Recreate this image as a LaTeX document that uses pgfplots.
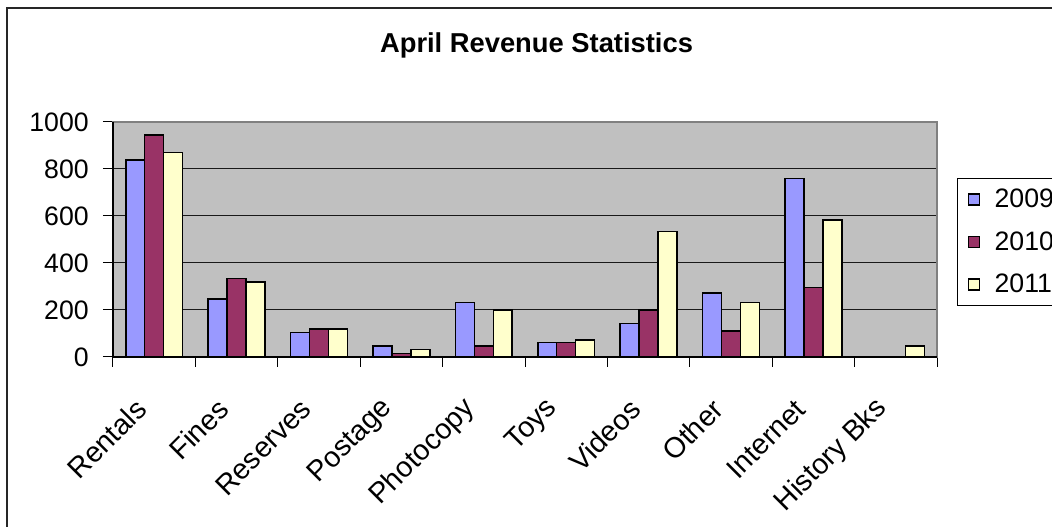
\documentclass[border=0pt]{standalone}
\usepackage{pgfplots}
\pgfplotsset{compat=1.18}
\usepackage{fontspec}
\setmainfont{Liberation Sans}
\definecolor{cA}{HTML}{9999FF}
\definecolor{cB}{HTML}{993366}
\definecolor{cC}{HTML}{FFFFCC}
\definecolor{bg}{HTML}{C0C0C0}
\definecolor{frm}{HTML}{808080}
\begin{document}
\begin{tikzpicture}
\useasboundingbox (0pt,0pt) rectangle (789pt,395.25pt);
\clip (0pt,0pt) rectangle (789pt,395.25pt);
\fill[white] (0pt,0pt) rectangle (789pt,395.25pt);
\draw[line width=1.5pt, black!85] (5.25pt,-10pt) -- (5.25pt,389.25pt) -- (810pt,389.25pt);
\node[anchor=base, font=\bfseries\fontsize{20.5}{24}\selectfont] at (402.4pt,355.5pt) {April Revenue Statistics};
\begin{axis}[
  at={(84.75pt,127.5pt)}, anchor=south west,
  scale only axis, width=618pt, height=176.25pt,
  xmin=-0.5, xmax=9.5, ymin=0, ymax=1000,
  clip=false,
  ytick={0,200,...,1000},
  xtick={0,...,9},
  xticklabels={Rentals,Fines,Reserves,Postage,Photocopy,Toys,Videos,Other,Internet,History Bks},
  minor xtick={-0.5,0.5,...,9.5},
  xtick pos=bottom, ytick pos=left,
  tick align=outside,
  major tick length=7.5pt, minor tick length=7.5pt,
  every major x tick/.append style={draw=none},
  tick style={black, line width=0.75pt},
  ymajorgrids, major grid style={black!90, line width=0.75pt},
  axis background/.style={fill=bg},
  axis line style={frm, line width=1.1pt},
  /pgf/number format/assume math mode=true,
  /pgf/number format/1000 sep={},
  tick label style={font=\fontsize{20}{24}\selectfont},
  yticklabel style={anchor=east, inner sep=0pt, xshift=-10.5pt},
  xticklabel style={font=\fontsize{21.5}{25}\selectfont, xshift=-9.75pt, yshift=-28pt, rotate=45, anchor=east, inner sep=0pt},
  bar width=0.23,
  legend cell align=left,
  legend image code/.code={\draw[#1] (0pt,-4.1pt) rectangle (8.25pt,4.1pt);},
  legend style={at={(1.0243,0.762)}, anchor=north west, draw=black, line width=0.75pt,
    fill=white, font=\fontsize{20}{24}\selectfont, row sep=12.5pt, inner ysep=6pt, inner xsep=7.5pt,
    /tikz/every odd column/.append style={column sep=9pt}},
]
\addplot[ybar, bar shift=-0.23, fill=cA, draw=black, line width=1.1pt] coordinates {
 (0,838) (1,247) (2,104) (3,47) (4,231) (5,62) (6,143) (7,272) (8,759)};
\addlegendentry{2009}
\addplot[ybar, bar shift=0, fill=cB, draw=black, line width=1.1pt] coordinates {
 (0,945) (1,335) (2,119) (3,16) (4,47) (5,62) (6,200) (7,111) (8,295)};
\addlegendentry{2010}
\addplot[ybar, bar shift=0.23, fill=cC, draw=black, line width=1.1pt] coordinates {
 (0,871) (1,319) (2,119) (3,31) (4,200) (5,72) (6,535) (7,231) (8,583) (9,47)};
\addlegendentry{2011}
\draw[black, line width=1.1pt] (rel axis cs:0,1) -- (rel axis cs:0,0) -- (rel axis cs:1,0);
\end{axis}
\end{tikzpicture}
\end{document}
